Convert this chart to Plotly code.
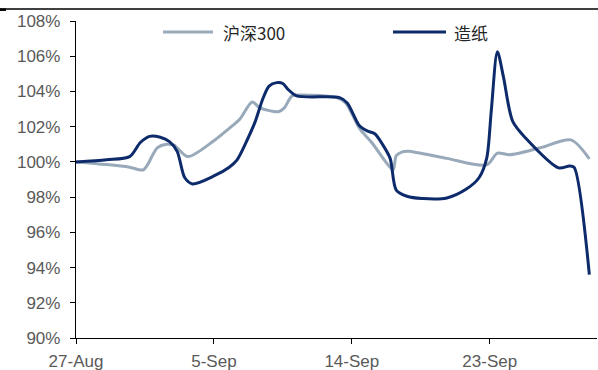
import plotly.graph_objects as go

# Days elapsed since 27-Aug and normalised index levels (start = 100%)
hs300_days = [0, 2, 3.5, 4.4, 5.3, 5.9, 6.4, 7.3, 9.0, 10.0, 10.7, 11.5, 12.0, 13.2, 13.6,
              14.1, 14.8, 17.0, 17.6, 18.5, 19.3, 20.3, 20.7, 20.9, 21.3, 21.7, 24.2,
              26.8, 27.5, 28.3, 30.3, 32.3, 33.5]
hs300_vals = [100.0, 99.85, 99.7, 99.55, 100.8, 101.0, 100.95, 100.3, 101.2, 101.9, 102.44,
              103.4, 103.07, 102.85, 103.07, 103.75, 103.8, 103.65, 103.35, 101.9, 101.1,
              99.9, 99.55, 100.35, 100.57, 100.6, 100.2, 99.83, 100.5, 100.4, 100.8,
              101.25, 100.17]

paper_days = [0, 2, 3.5, 4.2, 4.8, 5.5, 6.1, 6.6, 7.1, 7.6, 9.0, 10.0, 10.5, 11.2, 11.7,
              12.2, 12.6, 13.1, 13.5, 13.8, 14.4, 17.2, 17.7, 18.5, 19.0, 19.5, 20.0,
              20.5, 20.9, 21.6, 22.6, 24.2, 25.5, 26.3, 26.8, 27.1, 27.5, 27.9, 28.5,
              29.4, 31.5, 32.2, 32.5, 33.5]
paper_vals = [100.0, 100.12, 100.3, 101.1, 101.45, 101.4, 101.15, 100.6, 99.1, 98.75, 99.2,
              99.7, 100.1, 101.3, 102.3, 103.6, 104.3, 104.5, 104.45, 104.15, 103.75,
              103.65, 103.35, 102.05, 101.76, 101.6, 101.0, 100.2, 98.4, 98.05, 97.92,
              97.95, 98.47, 99.1, 100.2, 102.9, 106.25, 104.8, 102.3, 101.3, 99.66, 99.77,
              99.7, 93.6]

series_names = ["沪深300", "造纸"]
series_colors = ["#98A9BA", "#0D2A6B"]

tick_days = [0, 9, 18, 27]
tick_labels = ["27-Aug", "5-Sep", "14-Sep", "23-Sep"]
y_ticks = list(range(90, 110, 2))

W, H = 598, 370
ML, MR, MT, MB = 76, 1, 21, 32
plot_w, plot_h = W - ML - MR, H - MT - MB


def px_x(px):
    return (px - ML) / plot_w


def px_y(py):
    return 1 - (py - MT) / plot_h


fig = go.Figure()
for name, color, xs, ys in zip(series_names, series_colors,
                               [hs300_days, paper_days], [hs300_vals, paper_vals]):
    fig.add_trace(go.Scatter(
        x=xs, y=ys, name=name, mode="lines", showlegend=False,
        line=dict(color=color, width=3, shape="spline", smoothing=0.8),
    ))

axis_font = dict(family="Liberation Sans, Arial, sans-serif", size=17, color="#595959")

fig.update_xaxes(
    range=[0, 34], tickmode="array", tickvals=tick_days, ticktext=tick_labels,
    showgrid=False, zeroline=False, showline=True, linecolor="black", linewidth=1.3,
    ticks="outside", ticklen=5, tickcolor="black", tickwidth=1.3, tickfont=axis_font,
    ticklabelstandoff=2, automargin=False,
)
fig.update_yaxes(
    range=[90, 108], tickmode="array", tickvals=y_ticks,
    ticktext=[f"{v}%" for v in y_ticks],
    showgrid=False, zeroline=False, showline=True, linecolor="black", linewidth=1.3,
    ticks="outside", ticklen=5, tickcolor="black", tickwidth=1.3, tickfont=axis_font,
    ticklabelstandoff=6, automargin=False,
)

# Header rule across the top of the page, with a heavier stub at its left end
fig.add_shape(type="line", xref="paper", yref="paper",
              x0=px_x(0), x1=px_x(W), y0=px_y(9), y1=px_y(9),
              line=dict(color="black", width=1.5))
fig.add_shape(type="line", xref="paper", yref="paper",
              x0=px_x(0), x1=px_x(6), y0=px_y(9.7), y1=px_y(9.7),
              line=dict(color="black", width=2.5))

# Legend: line swatch followed by the series name
legend_pos = [(163, 213, 221), (393, 446, 452)]
for (x0, x1, tx), name, color in zip(legend_pos, series_names, series_colors):
    fig.add_shape(type="line", xref="paper", yref="paper",
                  x0=px_x(x0), x1=px_x(x1), y0=px_y(32), y1=px_y(32),
                  line=dict(color=color, width=3))
    fig.add_annotation(xref="paper", yref="paper", x=px_x(tx), y=px_y(32),
                       xanchor="left", yanchor="middle", showarrow=False, text=name,
                       font=dict(family="Noto Sans CJK SC, Liberation Sans, sans-serif",
                                 size=17, color="#262626"))

fig.update_layout(
    width=W, height=H,
    margin=dict(l=ML, r=MR, t=MT, b=MB, pad=0, autoexpand=False),
    paper_bgcolor="white", plot_bgcolor="white",
    showlegend=False,
)

fig.write_html("out.html")
